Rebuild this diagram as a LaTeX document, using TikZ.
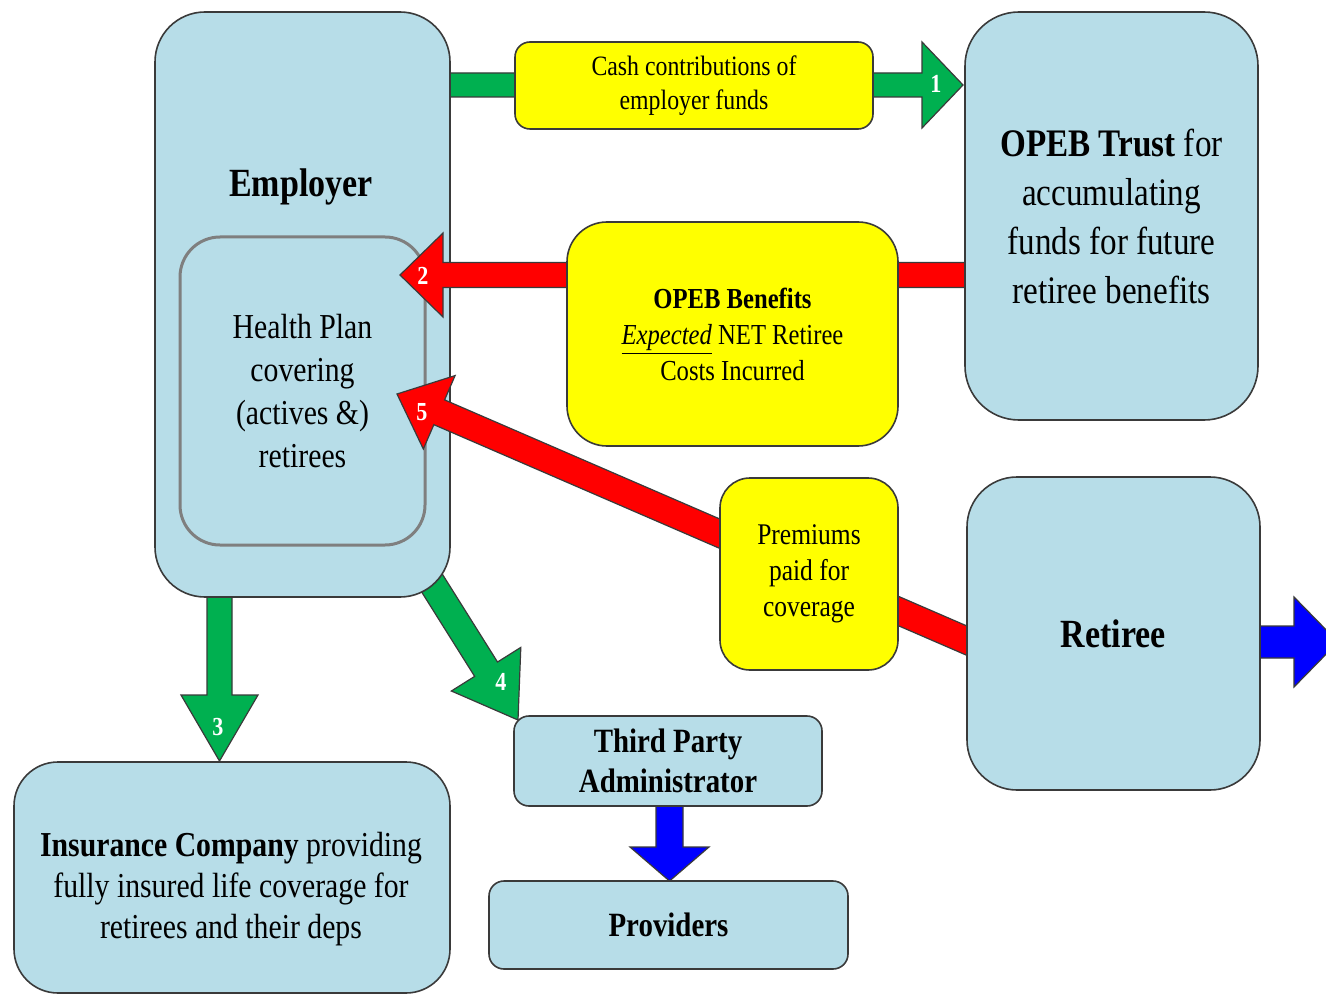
\documentclass[tikz,border=0pt]{standalone}
\usepackage{fontspec}
\setmainfont{Liberation Serif}[FakeStretch=0.85]
\usetikzlibrary{calc}
\definecolor{boxblue}{HTML}{B7DDE8}
\definecolor{agreen}{HTML}{00B050}
\definecolor{ared}{HTML}{FF0000}
\definecolor{ayellow}{HTML}{FFFF00}
\definecolor{ablue}{HTML}{0000FF}
\definecolor{edgecol}{HTML}{3A3A3A}
\definecolor{hpedge}{HTML}{7F7F7F}
\tikzset{
  bluebox/.style={draw=edgecol, line width=0.8pt, fill=boxblue, align=center, inner sep=0pt},
  yellowbox/.style={draw=edgecol, line width=0.8pt, fill=ayellow, align=center, inner sep=0pt},
  sz/.style 2 args={minimum width=#1*0.5pt, minimum height=#2*0.5pt},
  arrowline/.style={draw=edgecol, line width=0.6pt, line join=miter},
  num/.style={text=white, font=\bfseries\fontsize{13}{13}\selectfont, inner sep=0pt},
}
% #1 start, #2 tip, #3 colour, #4 shaft half width, #5 head half width, #6 head length
\newcommand\fatarrow[6]{%
  \coordinate (fa-h) at ($(#2)!#6!(#1)$);
  \filldraw[fill=#3, arrowline]
    ($(#1)!#4!90:(#2)$) -- ($(fa-h)!#4!-90:(#1)$) -- ($(fa-h)!#5!-90:(#1)$) --
    (#2) -- ($(fa-h)!#5!90:(#1)$) -- ($(fa-h)!#4!90:(#1)$) --
    ($(#1)!#4!-90:(#2)$) -- cycle;
}
\begin{document}
\begin{tikzpicture}[x=0.5pt,y=-0.5pt]
\clip (0,0) rectangle (1326,994);
\fill[white] (0,0) rectangle (1326,994);

% connector end points
\coordinate (a1s) at (430,85);    \coordinate (a1t) at (963,85);
\coordinate (a2s) at (1000,275);  \coordinate (a2t) at (400,275);
\coordinate (a3s) at (219.5,570); \coordinate (a3t) at (219.5,761);
\coordinate (a4s) at (420,564);   \coordinate (a4t) at (518,720);
\coordinate (a5s) at (1000,655);  \coordinate (a5t) at (397,394);
\coordinate (a6s) at (669.5,790); \coordinate (a6t) at (669.5,881);
\coordinate (a7s) at (1230,642);  \coordinate (a7t) at (1338,642);

% arrows lying under their source boxes
\fatarrow{a1s}{a1t}{agreen}{6pt}{21.5pt}{20.5pt}
\fatarrow{a3s}{a3t}{agreen}{6.25pt}{19.25pt}{33pt}
\fatarrow{a4s}{a4t}{agreen}{6.75pt}{20.5pt}{30pt}
\fatarrow{a6s}{a6t}{ablue}{6.75pt}{19.75pt}{17pt}
\fatarrow{a7s}{a7t}{ablue}{8pt}{22.5pt}{22pt}

% employer
\node[bluebox, sz={295}{585}, rounded corners=25pt] (employer) at (302.5,304.5) {};
\node[font=\bfseries\fontsize{20}{24}\selectfont] (emptxt) at (301,187) {Employer};
\node[bluebox, draw=hpedge, line width=1.5pt, sz={245}{308}, rounded corners=20pt,
      font=\fontsize{17.5}{21.5}\selectfont] (hp) at (302.5,391)
      {Health Plan\\covering\\(actives \&)\\retirees};

% arrows pointing into the health plan
\fatarrow{a2s}{a2t}{ared}{6.25pt}{21pt}{21.5pt}
\fatarrow{a5s}{a5t}{ared}{6.75pt}{20pt}{23pt}

% other boxes
\node[bluebox, sz={293}{408}, rounded corners=27pt,
      font=\fontsize{19.5}{24.5}\selectfont] (trust) at (1111.5,216)
      {\textbf{OPEB Trust} for\\accumulating\\funds for future\\retiree benefits};
\node[bluebox, sz={293}{313}, rounded corners=25pt,
      font=\bfseries\fontsize{20}{24}\selectfont] (retiree) at (1113.5,633.5) {Retiree};
\node[bluebox, sz={436}{231}, rounded corners=22pt] (insurance) at (232,877.5) {};
\node[font=\fontsize{17.5}{20.5}\selectfont, align=center] (instxt) at (231,889)
      {\textbf{Insurance Company} providing\\fully insured life coverage for\\retirees and their deps};
\node[bluebox, sz={308}{90}, rounded corners=7.5pt,
      font=\bfseries\fontsize{17}{20}\selectfont] (tpa) at (668,761) {Third Party\\Administrator};
\node[bluebox, sz={359}{88}, rounded corners=7.5pt,
      font=\bfseries\fontsize{17}{20}\selectfont] (providers) at (668.5,925) {Providers};

% yellow labels on the connectors
\node[yellowbox, sz={358}{87}, rounded corners=7.5pt,
      font=\fontsize{14}{17}\selectfont] (cash) at (694,85.5)
      {Cash contributions of\\employer funds};
\node[yellowbox, sz={331}{224}, rounded corners=20pt,
      font=\fontsize{14.5}{18}\selectfont] (benefits) at (732.5,334)
      {\textbf{OPEB Benefits}\\\underline{\textit{Expected}} NET Retiree\\Costs Incurred};
\node[yellowbox, sz={178}{192}, rounded corners=15pt,
      font=\fontsize{15}{18}\selectfont] (premiums) at (809,574)
      {Premiums\\paid for\\coverage};

% numbers
\node[num] (n1) at (936,84) {1};
\node[num] (n2) at (423,276) {2};
\node[num] (n3) at (218,727) {3};
\node[num] (n4) at (501,682) {4};
\node[num] (n5) at (422,412) {5};
\end{tikzpicture}
\end{document}
